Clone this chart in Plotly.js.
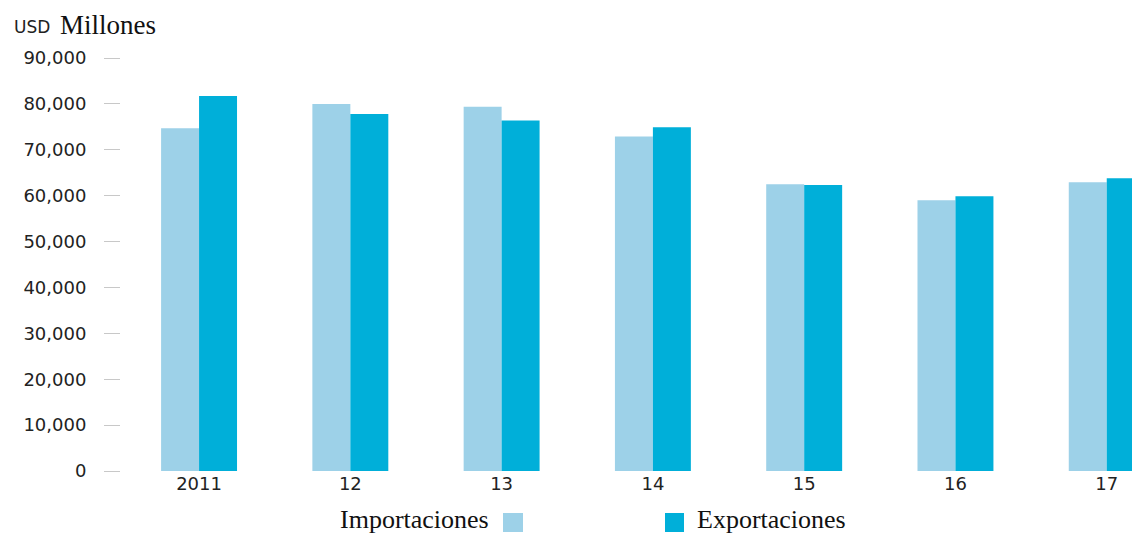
<!DOCTYPE html>
<html>
<head>
<meta charset="utf-8">
<script src="https://cdn.plot.ly/plotly-3.0.1.min.js"></script>
<style>
html,body{margin:0;padding:0;background:#fff;}
#chart{width:1132px;height:533px;}
</style>
</head>
<body>
<div id="chart"></div>
<script>
const years = ['2011', '12', '13', '14', '15', '16', '17'];
const importaciones = [74700, 80000, 79400, 72900, 62500, 59000, 62900];
const exportaciones = [81700, 77800, 76400, 74900, 62300, 59900, 63800];
const yTickVals = [0, 10000, 20000, 30000, 40000, 50000, 60000, 70000, 80000, 90000];
const yTickText = ['0', '10,000', '20,000', '30,000', '40,000', '50,000', '60,000', '70,000', '80,000', '90,000'];

const colImp = '#9dd1e8';
const colExp = '#00afd9';

const L = 121, W = 1011, T = 58, H = 413;
const px = x => (x - L) / W;
const py = y => (T + H - y) / H;

const traces = [
  {type: 'bar', name: 'Importaciones', x: years, y: importaciones, marker: {color: colImp}, hoverinfo: 'x+y'},
  {type: 'bar', name: 'Exportaciones', x: years, y: exportaciones, marker: {color: colExp}, hoverinfo: 'x+y'}
];

const sans = 'DejaVu Sans, sans-serif';
const serif = 'Liberation Serif, Times New Roman, serif';

const layout = {
  width: 1132, height: 533,
  margin: {l: L, r: 1132 - L - W, t: T, b: 533 - T - H, pad: 0},
  paper_bgcolor: '#fff', plot_bgcolor: '#fff',
  showlegend: false,
  barmode: 'group', bargap: 0.498, bargroupgap: 0,
  xaxis: {
    type: 'category', range: [-0.516, 6.167],
    showgrid: false, zeroline: false, showline: false, ticks: '',
    tickfont: {family: sans, size: 18, color: '#222'}
  },
  yaxis: {
    range: [0, 90000], tickvals: yTickVals, ticktext: yTickText,
    showgrid: false, zeroline: false, showline: false,
    ticks: 'outside', ticklen: 16, tickwidth: 1, tickcolor: '#c8c8c8',
    ticklabelstandoff: 14,
    tickfont: {family: sans, size: 18, color: '#222'}
  },
  annotations: [
    {xref: 'paper', yref: 'paper', x: px(12), y: py(27), xanchor: 'left', yanchor: 'middle', showarrow: false,
     text: 'USD', font: {family: sans, size: 17, color: '#222'}},
    {xref: 'paper', yref: 'paper', x: px(58), y: py(25), xanchor: 'left', yanchor: 'middle', showarrow: false,
     text: 'Millones', font: {family: serif, size: 27, color: '#111'}},
    {xref: 'paper', yref: 'paper', x: px(491), y: py(519), xanchor: 'right', yanchor: 'middle', showarrow: false,
     text: 'Importaciones', font: {family: serif, size: 26, color: '#111'}},
    {xref: 'paper', yref: 'paper', x: px(695), y: py(519), xanchor: 'left', yanchor: 'middle', showarrow: false,
     text: 'Exportaciones', font: {family: serif, size: 26, color: '#111'}}
  ],
  shapes: [
    {type: 'rect', xref: 'paper', yref: 'paper', x0: px(503), x1: px(523), y0: py(532), y1: py(513),
     fillcolor: colImp, line: {width: 0}},
    {type: 'rect', xref: 'paper', yref: 'paper', x0: px(665), x1: px(684), y0: py(532), y1: py(513),
     fillcolor: colExp, line: {width: 0}}
  ]
};

Plotly.newPlot('chart', traces, layout, {displayModeBar: false, responsive: false});
</script>
</body>
</html>
